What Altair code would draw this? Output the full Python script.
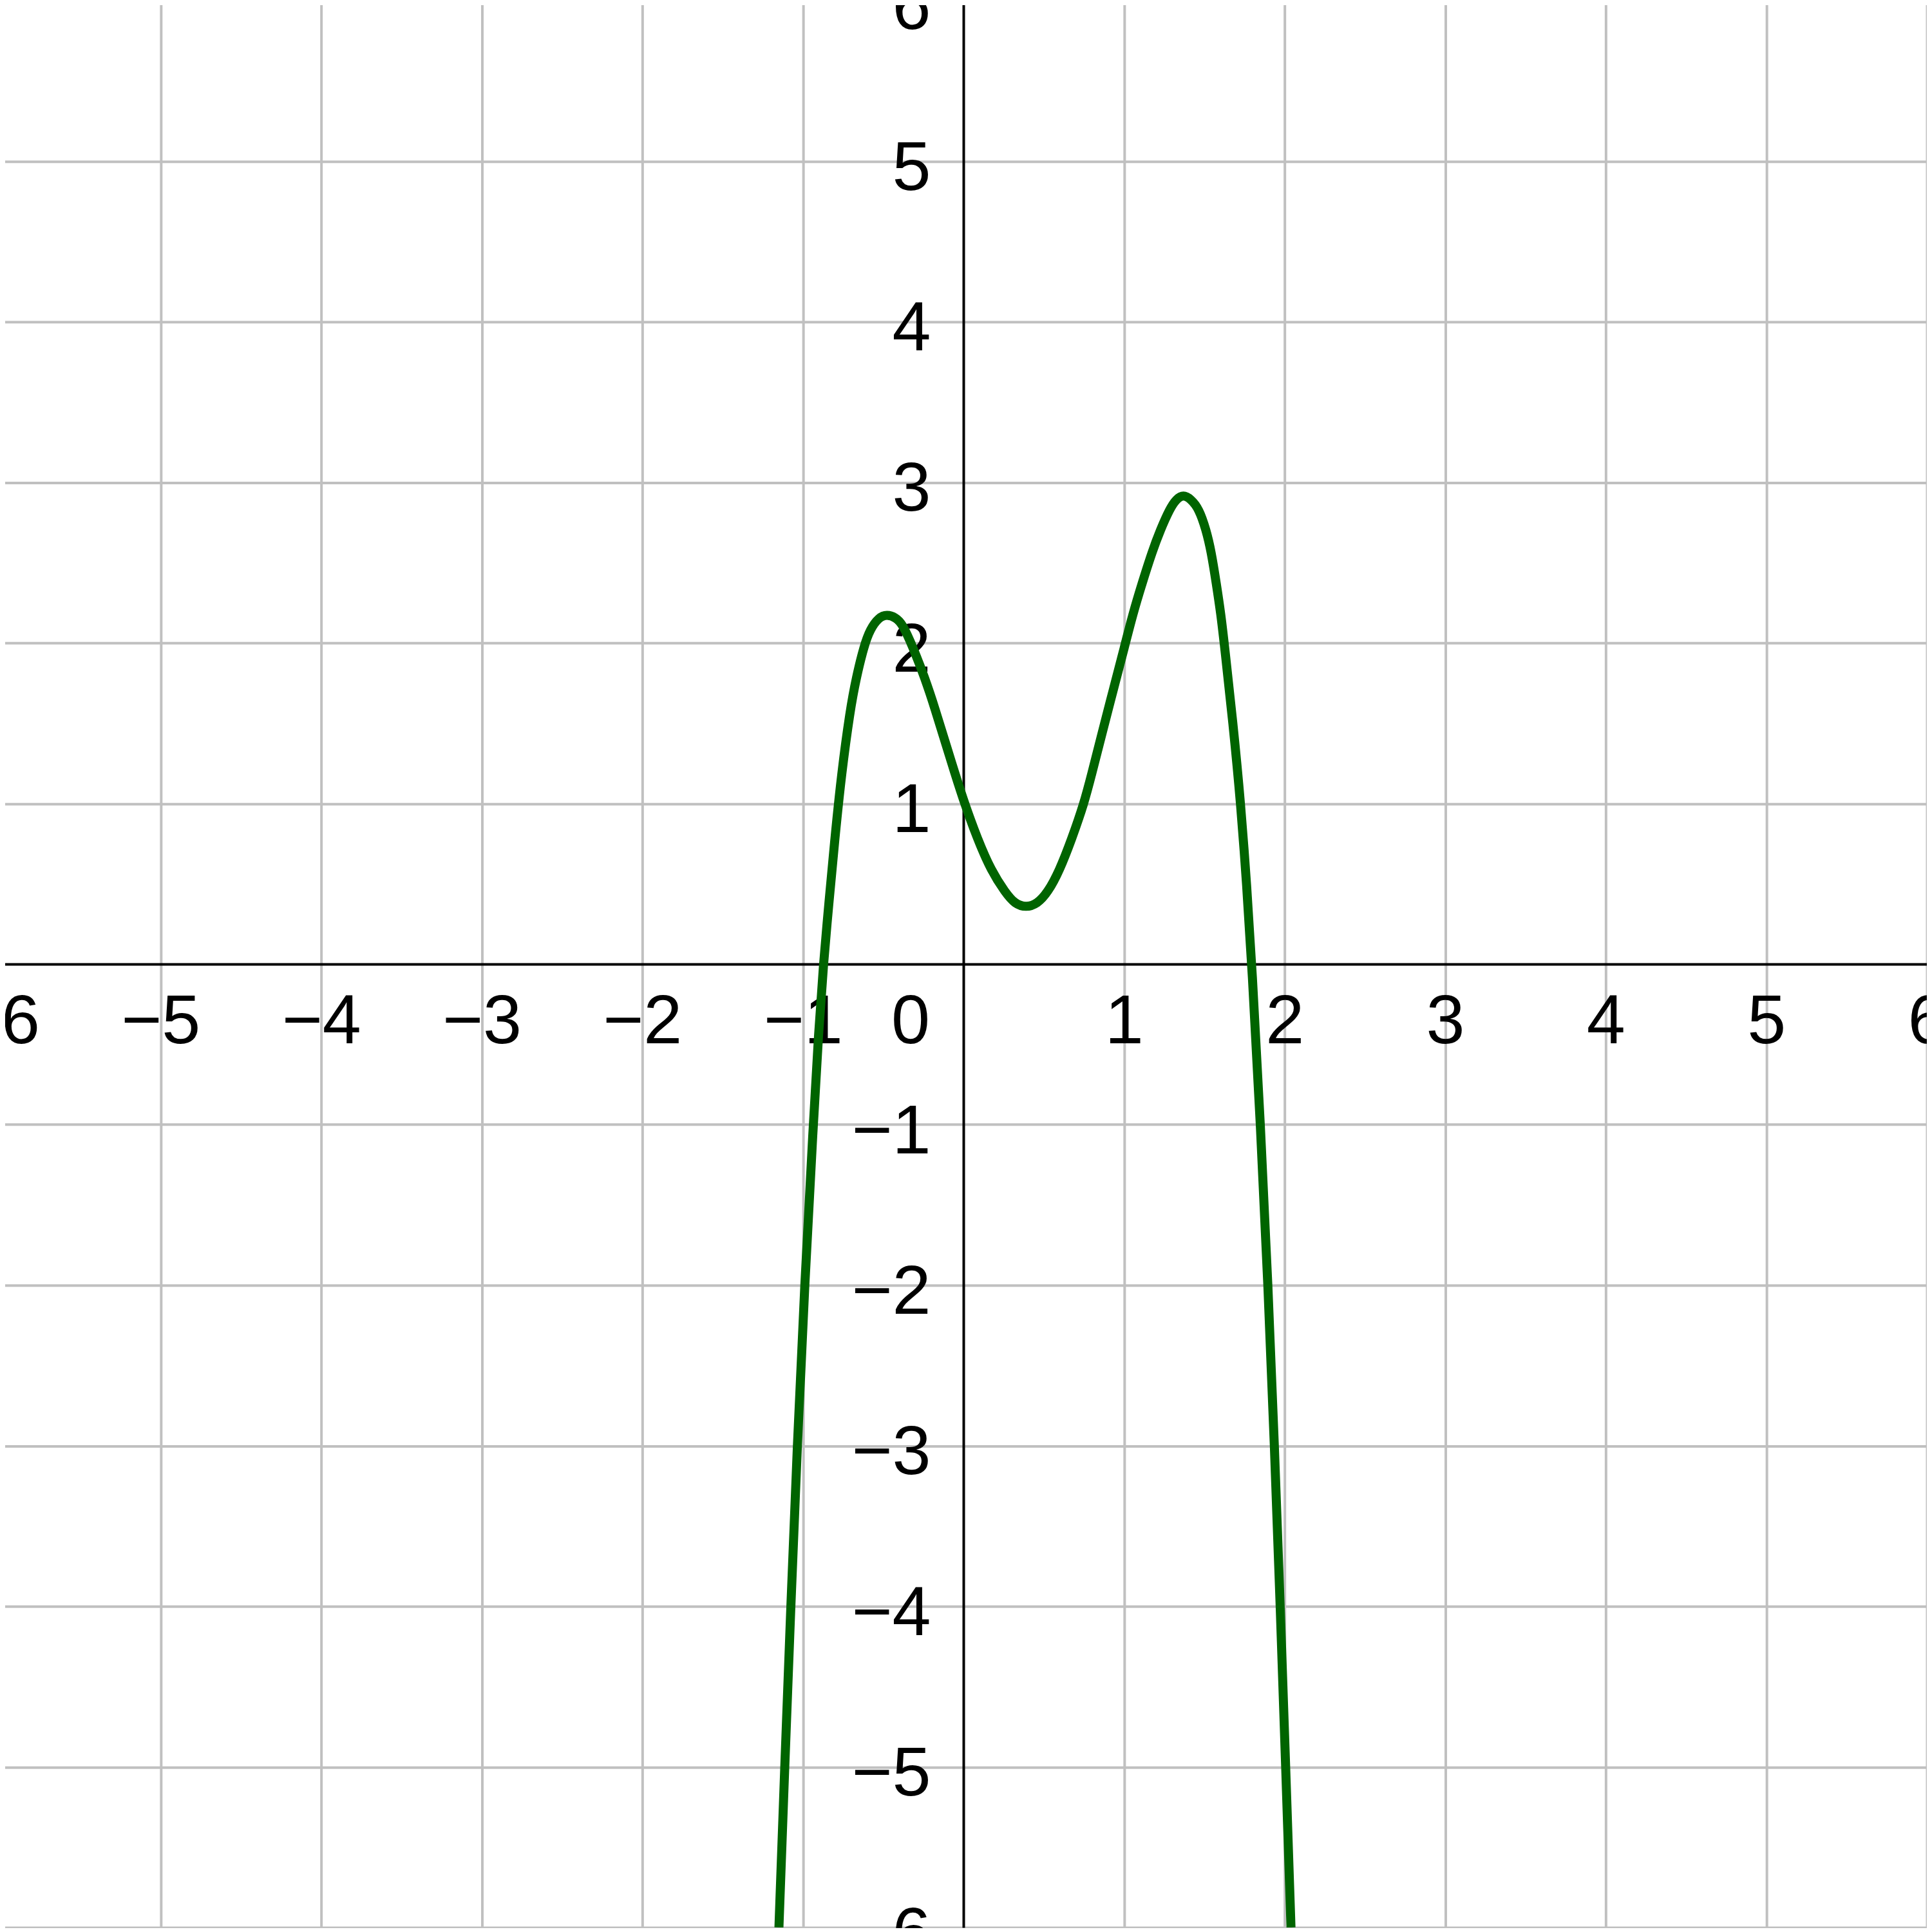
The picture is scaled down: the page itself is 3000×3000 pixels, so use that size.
import altair as alt
import pandas as pd

# Curve samples
curve_x = [-1.149, -1.113, -1.075, -1.035, -0.989, -0.935, -0.902, -0.872, -0.838, -0.801,
           -0.760, -0.706, -0.668, -0.619, -0.581, -0.528, -0.477, -0.421, -0.381, -0.318,
           -0.240, -0.174, -0.113, -0.055, 0.007, 0.087, 0.174, 0.261, 0.320, 0.390,
           0.460, 0.525, 0.597, 0.675, 0.751, 0.798, 0.866, 0.935, 1.005, 1.052,
           1.112, 1.176, 1.226, 1.286, 1.325, 1.370, 1.417, 1.466, 1.512, 1.543,
           1.575, 1.603, 1.626, 1.680, 1.727, 1.764, 1.796, 1.850, 1.897, 1.937,
           1.973, 2.007, 2.040]
curve_y = [-6.0, -5.0, -4.0, -3.0, -2.0, -1.0, -0.423, 0.0, 0.379, 0.780,
           1.180, 1.581, 1.782, 1.982, 2.085, 2.158, 2.178, 2.158, 2.120, 1.982,
           1.782, 1.581, 1.381, 1.194, 1.0, 0.780, 0.579, 0.446, 0.375, 0.352,
           0.375, 0.446, 0.579, 0.780, 1.0, 1.180, 1.448, 1.715, 1.982, 2.169,
           2.370, 2.570, 2.703, 2.837, 2.895, 2.924, 2.895, 2.837, 2.703, 2.570,
           2.370, 2.182, 1.982, 1.490, 1.0, 0.495, 0.0, -1.0, -2.0, -3.0,
           -4.0, -5.0, -6.0]

x_ticks = [-6, -5, -4, -3, -2, -1, 1, 2, 3, 4, 5, 6]
y_ticks = [-6, -5, -4, -3, -2, -1, 1, 2, 3, 4, 5, 6]
domain = [-6, 6]
origin_label = ["0"]

W = 2994
H = 2994
FONT = "Liberation Sans"
FS = 108

curve_df = pd.DataFrame({"x": curve_x, "y": curve_y})
origin_df = pd.DataFrame({"x": [0], "y": [0], "label": origin_label})

x_axis = alt.Axis(
    orient="bottom", offset=-H / 2, values=x_ticks, format="d", grid=True,
    gridColor="#c0c0c0", gridWidth=4, domain=True, domainColor="#000000",
    domainWidth=4, ticks=False, tickSize=0, labelFont=FONT, labelFontSize=FS,
    labelColor="#000000", labelPadding=38, labelFlush=False, labelOverlap=False,
    labelLimit=600, labelBaseline="top", labelAlign="center", zindex=0,
)
y_axis = alt.Axis(
    orient="left", offset=-W / 2, values=y_ticks, format="d", grid=True,
    gridColor="#c0c0c0", gridWidth=4, domain=True, domainColor="#000000",
    domainWidth=4, ticks=False, tickSize=0, labelFont=FONT, labelFontSize=FS,
    labelColor="#000000", labelPadding=51, labelFlush=False, labelOverlap=False,
    labelLimit=600, labelBaseline="middle", labelAlign="right", labelOffset=12, zindex=0,
)

xs = alt.Scale(domain=domain, nice=False, zero=False)
ys = alt.Scale(domain=domain, nice=False, zero=False)

line = alt.Chart(curve_df).mark_line(
    color="#006400", strokeWidth=14, interpolate="basis", clip=True
).encode(
    x=alt.X("x:Q", scale=xs, axis=x_axis, title=None),
    y=alt.Y("y:Q", scale=ys, axis=y_axis, title=None),
    order="x:Q",
)

zero_text = alt.Chart(origin_df).mark_text(
    align="right", baseline="top", dx=-52, dy=38, font=FONT, fontSize=FS, color="#000000"
).encode(
    x=alt.X("x:Q", scale=xs),
    y=alt.Y("y:Q", scale=ys),
    text="label:N",
)

chart = alt.layer(line, zero_text).properties(
    width=W, height=H,
    padding={"left": -8, "top": -8, "right": 0, "bottom": 0},
    autosize=alt.AutoSizeParams(type="none"),
    background="#ffffff",
).configure_view(strokeWidth=0)

chart.save("out.html", embed_options={"renderer": "svg", "actions": False})
